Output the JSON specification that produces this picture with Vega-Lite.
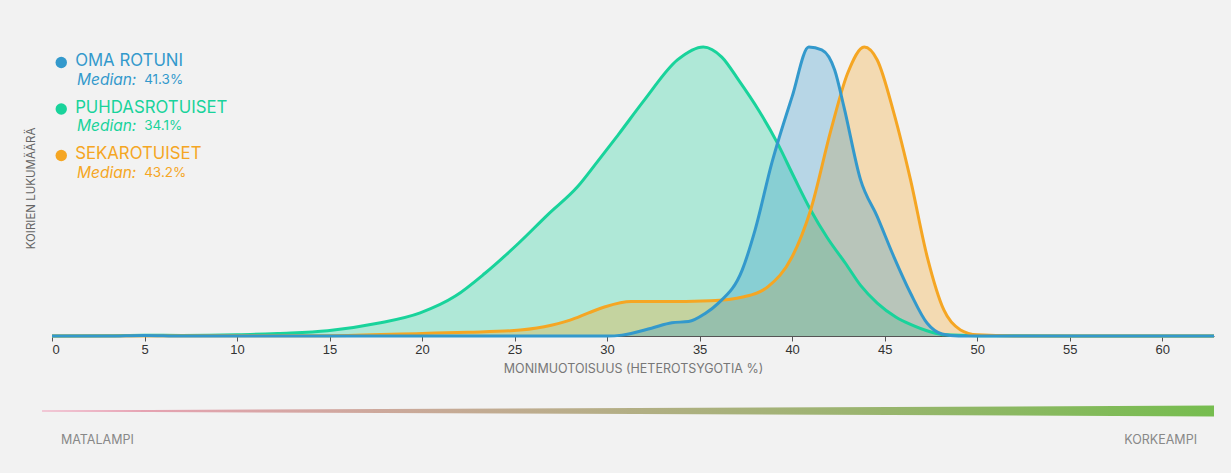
{
  "$schema": "https://vega.github.io/schema/vega-lite/v6.json",
  "background": "#f2f2f2",
  "padding": {"left": 25, "top": 40, "right": 13, "bottom": 23},
  "config": {"view": {"stroke": null}, "font": "Inter"},
  "spacing": 26,
  "datasets": {
    "curves": [
      {"series": "PUHDASROTUISET", "x": 0, "y": 0},
      {"series": "PUHDASROTUISET", "x": 3, "y": 0.001},
      {"series": "PUHDASROTUISET", "x": 5, "y": 0.003},
      {"series": "PUHDASROTUISET", "x": 7, "y": 0.002},
      {"series": "PUHDASROTUISET", "x": 10, "y": 0.004},
      {"series": "PUHDASROTUISET", "x": 12.2, "y": 0.009},
      {"series": "PUHDASROTUISET", "x": 14.9, "y": 0.018},
      {"series": "PUHDASROTUISET", "x": 17.6, "y": 0.044},
      {"series": "PUHDASROTUISET", "x": 19.9, "y": 0.08},
      {"series": "PUHDASROTUISET", "x": 21.8, "y": 0.138},
      {"series": "PUHDASROTUISET", "x": 23.4, "y": 0.217},
      {"series": "PUHDASROTUISET", "x": 25.2, "y": 0.32},
      {"series": "PUHDASROTUISET", "x": 26.8, "y": 0.42},
      {"series": "PUHDASROTUISET", "x": 28.4, "y": 0.516},
      {"series": "PUHDASROTUISET", "x": 29.5, "y": 0.605},
      {"series": "PUHDASROTUISET", "x": 30.6, "y": 0.696},
      {"series": "PUHDASROTUISET", "x": 32.0, "y": 0.815},
      {"series": "PUHDASROTUISET", "x": 33.8, "y": 0.955},
      {"series": "PUHDASROTUISET", "x": 35.2, "y": 1.0},
      {"series": "PUHDASROTUISET", "x": 36.2, "y": 0.965},
      {"series": "PUHDASROTUISET", "x": 37.1, "y": 0.886},
      {"series": "PUHDASROTUISET", "x": 38.2, "y": 0.78},
      {"series": "PUHDASROTUISET", "x": 39.2, "y": 0.668},
      {"series": "PUHDASROTUISET", "x": 40.1, "y": 0.55},
      {"series": "PUHDASROTUISET", "x": 41.0, "y": 0.436},
      {"series": "PUHDASROTUISET", "x": 41.9, "y": 0.34},
      {"series": "PUHDASROTUISET", "x": 42.9, "y": 0.25},
      {"series": "PUHDASROTUISET", "x": 43.7, "y": 0.175},
      {"series": "PUHDASROTUISET", "x": 44.6, "y": 0.114},
      {"series": "PUHDASROTUISET", "x": 45.6, "y": 0.066},
      {"series": "PUHDASROTUISET", "x": 46.4, "y": 0.04},
      {"series": "PUHDASROTUISET", "x": 47.5, "y": 0.014},
      {"series": "PUHDASROTUISET", "x": 48.3, "y": 0.004},
      {"series": "PUHDASROTUISET", "x": 50, "y": 0.001},
      {"series": "PUHDASROTUISET", "x": 55, "y": 0},
      {"series": "PUHDASROTUISET", "x": 62.8, "y": 0},
      {"series": "SEKAROTUISET", "x": 0, "y": 0},
      {"series": "SEKAROTUISET", "x": 15, "y": 0.001},
      {"series": "SEKAROTUISET", "x": 20, "y": 0.009},
      {"series": "SEKAROTUISET", "x": 22.5, "y": 0.013},
      {"series": "SEKAROTUISET", "x": 24.8, "y": 0.018},
      {"series": "SEKAROTUISET", "x": 26.6, "y": 0.032},
      {"series": "SEKAROTUISET", "x": 28.0, "y": 0.055},
      {"series": "SEKAROTUISET", "x": 29.0, "y": 0.08},
      {"series": "SEKAROTUISET", "x": 29.9, "y": 0.101},
      {"series": "SEKAROTUISET", "x": 31.3, "y": 0.119},
      {"series": "SEKAROTUISET", "x": 32.9, "y": 0.119},
      {"series": "SEKAROTUISET", "x": 35.6, "y": 0.122},
      {"series": "SEKAROTUISET", "x": 37.4, "y": 0.136},
      {"series": "SEKAROTUISET", "x": 38.7, "y": 0.171},
      {"series": "SEKAROTUISET", "x": 40.0, "y": 0.274},
      {"series": "SEKAROTUISET", "x": 41.0, "y": 0.436},
      {"series": "SEKAROTUISET", "x": 42.1, "y": 0.713},
      {"series": "SEKAROTUISET", "x": 43.0, "y": 0.909},
      {"series": "SEKAROTUISET", "x": 43.9, "y": 1.0},
      {"series": "SEKAROTUISET", "x": 44.6, "y": 0.955},
      {"series": "SEKAROTUISET", "x": 45.5, "y": 0.771},
      {"series": "SEKAROTUISET", "x": 46.4, "y": 0.54},
      {"series": "SEKAROTUISET", "x": 47.3, "y": 0.274},
      {"series": "SEKAROTUISET", "x": 48.2, "y": 0.09},
      {"series": "SEKAROTUISET", "x": 49.1, "y": 0.021},
      {"series": "SEKAROTUISET", "x": 50.0, "y": 0.004},
      {"series": "SEKAROTUISET", "x": 52, "y": 0},
      {"series": "SEKAROTUISET", "x": 62.8, "y": 0},
      {"series": "OMA ROTUNI", "x": 0, "y": 0},
      {"series": "OMA ROTUNI", "x": 3, "y": 0},
      {"series": "OMA ROTUNI", "x": 5, "y": 0.002},
      {"series": "OMA ROTUNI", "x": 7, "y": 0},
      {"series": "OMA ROTUNI", "x": 30, "y": 0},
      {"series": "OMA ROTUNI", "x": 30.8, "y": 0.003},
      {"series": "OMA ROTUNI", "x": 32.4, "y": 0.027},
      {"series": "OMA ROTUNI", "x": 33.5, "y": 0.046},
      {"series": "OMA ROTUNI", "x": 34.4, "y": 0.05},
      {"series": "OMA ROTUNI", "x": 35.3, "y": 0.078},
      {"series": "OMA ROTUNI", "x": 36.0, "y": 0.113},
      {"series": "OMA ROTUNI", "x": 37.3, "y": 0.228},
      {"series": "OMA ROTUNI", "x": 38.0, "y": 0.367},
      {"series": "OMA ROTUNI", "x": 38.9, "y": 0.598},
      {"series": "OMA ROTUNI", "x": 40.0, "y": 0.828},
      {"series": "OMA ROTUNI", "x": 40.9, "y": 1.0},
      {"series": "OMA ROTUNI", "x": 41.6, "y": 0.99},
      {"series": "OMA ROTUNI", "x": 42.3, "y": 0.92},
      {"series": "OMA ROTUNI", "x": 42.8, "y": 0.793},
      {"series": "OMA ROTUNI", "x": 43.7, "y": 0.54},
      {"series": "OMA ROTUNI", "x": 44.6, "y": 0.413},
      {"series": "OMA ROTUNI", "x": 45.5, "y": 0.274},
      {"series": "OMA ROTUNI", "x": 46.4, "y": 0.148},
      {"series": "OMA ROTUNI", "x": 47.3, "y": 0.044},
      {"series": "OMA ROTUNI", "x": 48.1, "y": 0.007},
      {"series": "OMA ROTUNI", "x": 49, "y": 0},
      {"series": "OMA ROTUNI", "x": 62.8, "y": 0}
    ],
    "legend": [
      {"series": "OMA ROTUNI", "median": "41.3%"},
      {"series": "PUHDASROTUISET", "median": "34.1%"},
      {"series": "SEKAROTUISET", "median": "43.2%"}
    ],
    "bar": [
      {"p": 0, "top": 0.5, "bot": -0.5},
      {"p": 1, "top": 5.4, "bot": -5.4}
    ]
  },
  "vconcat": [
    {
      "width": 1162,
      "height": 296,
      "layer": [
        {
          "data": {"name": "curves"},
          "mark": {"type": "area", "interpolate": "monotone", "opacity": 0.31},
          "encoding": {
            "x": {"field": "x", "type": "quantitative",
              "scale": {"domain": [0, 62.8], "nice": false, "zero": false},
              "axis": {"values": [0, 5, 10, 15, 20, 25, 30, 35, 40, 45, 50, 55, 60], "grid": false,
                "title": "MONIMUOTOISUUS (HETEROTSYGOTIA %)",
                "labelFont": "Liberation Sans", "labelFontSize": 13, "labelColor": "#333333",
                "tickColor": "#555555", "tickSize": 5, "labelPadding": 2,
                "domainColor": "#555555",
                "titleFont": "Inter", "titleFontWeight": "normal", "titleFontSize": 12.5, "titleColor": "#777777", "titlePadding": 6}},
            "y": {"field": "y", "type": "quantitative", "stack": null,
              "scale": {"domain": [0, 1.024], "nice": false},
              "axis": {"title": "KOIRIEN LUKUMÄÄRÄ", "labels": false, "ticks": false, "domain": false, "grid": false,
                "titleFont": "Inter", "titleFontWeight": "normal", "titleFontSize": 11.5, "titleColor": "#666666", "titlePadding": 16}},
            "color": {"field": "series", "type": "nominal",
              "scale": {"domain": ["OMA ROTUNI", "PUHDASROTUISET", "SEKAROTUISET"], "range": ["#3399cc", "#19d39b", "#f5a623"]},
              "legend": null}
          }
        },
        {
          "data": {"name": "curves"},
          "mark": {"type": "line", "interpolate": "monotone", "strokeWidth": 3},
          "encoding": {
            "x": {"field": "x", "type": "quantitative"},
            "y": {"field": "y", "type": "quantitative", "scale": {"domain": [0, 1.024], "nice": false}, "axis": null},
            "color": {"field": "series", "type": "nominal", "legend": null}
          }
        },
        {
          "data": {"name": "legend"},
          "mark": {"type": "point", "filled": true, "size": 130, "opacity": 1, "yOffset": 1.5},
          "encoding": {
            "x": {"datum": 0.5, "type": "quantitative"},
            "y": {"field": "series", "type": "nominal", "scale": {"range": [21, 114], "padding": 0}, "axis": null},
            "color": {"field": "series", "type": "nominal", "legend": null}
          }
        },
        {
          "data": {"name": "legend"},
          "mark": {"type": "text", "align": "left", "baseline": "middle", "fontSize": 16.8, "font": "Inter"},
          "encoding": {
            "x": {"datum": 1.25, "type": "quantitative"},
            "y": {"field": "series", "type": "nominal", "scale": {"range": [21, 114], "padding": 0}, "axis": null},
            "text": {"field": "series"},
            "color": {"field": "series", "type": "nominal", "legend": null}
          }
        },
        {
          "data": {"name": "legend"},
          "mark": {"type": "text", "align": "left", "baseline": "middle", "fontSize": 15.5, "font": "Inter", "fontStyle": "italic", "dy": 18.5, "text": "Median:"},
          "encoding": {
            "x": {"datum": 1.35, "type": "quantitative"},
            "y": {"field": "series", "type": "nominal", "scale": {"range": [21, 114], "padding": 0}, "axis": null},
            "color": {"field": "series", "type": "nominal", "legend": null}
          }
        },
        {
          "data": {"name": "legend"},
          "mark": {"type": "text", "align": "left", "baseline": "middle", "fontSize": 13.5, "font": "Inter", "dy": 18.5},
          "encoding": {
            "x": {"datum": 4.98, "type": "quantitative"},
            "y": {"field": "series", "type": "nominal", "scale": {"range": [21, 114], "padding": 0}, "axis": null},
            "text": {"field": "median"},
            "color": {"field": "series", "type": "nominal", "legend": null}
          }
        }
      ],
      "resolve": {"scale": {"y": "independent"}}
    },
    {
      "width": 1162,
      "height": 50,
      "layer": [
        {
          "data": {"name": "bar"},
          "mark": {"type": "area", "color": {"gradient": "linear", "x1": 0, "y1": 0, "x2": 1, "y2": 0,
            "stops": [{"offset": 0, "color": "#f0a0bb"}, {"offset": 1, "color": "#76bd4f"}]}},
          "encoding": {
            "x": {"field": "p", "type": "quantitative", "scale": {"domain": [0.00853, 1], "nice": false, "zero": false}, "axis": null},
            "y": {"field": "top", "type": "quantitative", "scale": {"domain": [-40, 10], "nice": false, "zero": false}, "axis": null},
            "y2": {"field": "bot"}
          }
        },
        {
          "data": {"values": [{}]},
          "mark": {"type": "text", "text": "MATALAMPI", "align": "left", "baseline": "middle", "fontSize": 12.5, "font": "Inter", "color": "#888888"},
          "encoding": {
            "x": {"datum": 0.0162, "type": "quantitative"},
            "y": {"datum": -29, "type": "quantitative"}
          }
        },
        {
          "data": {"values": [{}]},
          "mark": {"type": "text", "text": "KORKEAMPI", "align": "right", "baseline": "middle", "fontSize": 12.5, "font": "Inter", "color": "#888888"},
          "encoding": {
            "x": {"datum": 0.9855, "type": "quantitative"},
            "y": {"datum": -29, "type": "quantitative"}
          }
        }
      ]
    }
  ]
}
